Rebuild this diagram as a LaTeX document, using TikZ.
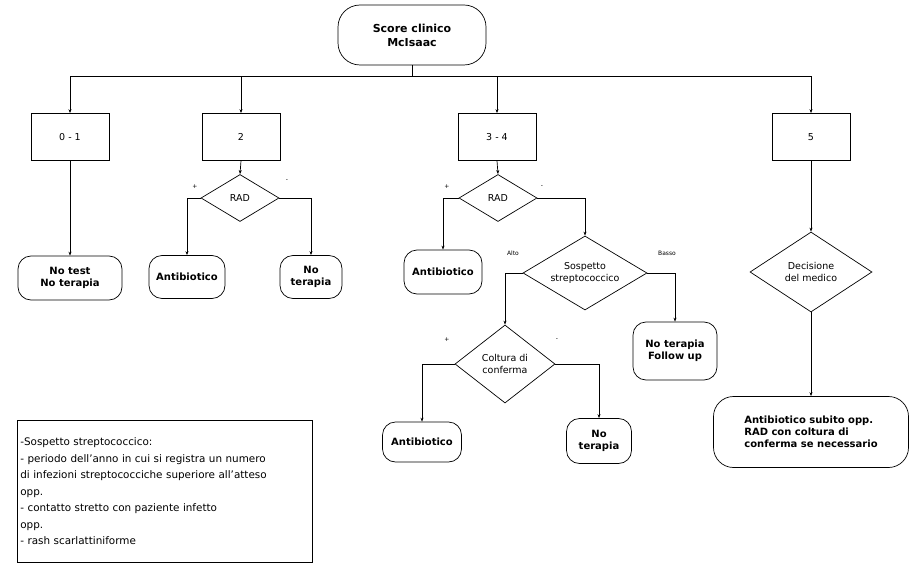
\documentclass[tikz,border=0pt]{standalone}
\usepackage{fontspec}
\setmainfont{DejaVu Sans}
\usetikzlibrary{shapes.geometric,arrows.meta}

\begin{document}
\begin{tikzpicture}[x=1pt,y=-1pt,line width=0.7pt,
    box/.style={draw,minimum width=78pt,minimum height=47pt,font=\fontsize{9.5}{11}\selectfont},
    term/.style={draw,rounded corners=13pt,align=center,inner sep=2pt,font=\bfseries\fontsize{10}{12}\selectfont},
    choice/.style={draw,diamond,aspect=1.7,inner sep=0pt,align=center,font=\fontsize{9.5}{11.5}\selectfont},
    lbl/.style={font=\fontsize{6}{7}\selectfont},
    arr/.style={-{Stealth[length=4pt,width=3pt]}}]
  \useasboundingbox (0,0) rectangle (915,564);
  \node[term,minimum width=148pt,minimum height=60pt,rounded corners=22pt,font=\bfseries\fontsize{11}{14}\selectfont] (score) at (412,35) {Score clinico\\McIsaac};
  \coordinate (bus) at (412,76);
  \node[box] (b01) at (70,137) {0 - 1};
  \node[box] (b2) at (241,137) {2};
  \node[box] (b34) at (497,137) {3 - 4};
  \node[box] (b5) at (811,137) {5};
  \node[choice,minimum width=78pt,minimum height=47pt] (rad2) at (240,198) {RAD};
  \node[choice,minimum width=78pt,minimum height=47pt] (rad34) at (498,198) {RAD};
  \node[choice,minimum width=124pt,minimum height=74pt] (susp) at (585,273) {Sospetto\\streptococcico};
  \node[choice,minimum width=100pt,minimum height=78pt] (colt) at (505,364) {Coltura di\\conferma};
  \node[choice,minimum width=122pt,minimum height=80pt] (dec) at (811,272) {Decisione\\del medico};
  \node[term,minimum width=104pt,minimum height=44pt] (notest) at (70,278) {No test\\No terapia};
  \node[term,minimum width=76pt,minimum height=43pt] (ab2) at (187,277) {Antibiotico};
  \node[term,minimum width=62pt,minimum height=43pt] (nt2) at (311,277) {No\\terapia};
  \node[term,minimum width=78pt,minimum height=44pt] (ab34) at (443,272) {Antibiotico};
  \node[term,minimum width=84pt,minimum height=58pt] (ntfu) at (675,351) {No terapia\\Follow up};
  \node[term,minimum width=79pt,minimum height=40pt] (ab3) at (422,442) {Antibiotico};
  \node[term,minimum width=65pt,minimum height=45pt] (nt3) at (599,441) {No\\terapia};
  \node[term,minimum width=195pt,minimum height=71pt,rounded corners=20pt,align=left] (final) at (811,432)
    {Antibiotico subito opp.\\RAD con coltura di\\conferma se necessario};
  \node[draw,anchor=north west,minimum width=295pt,minimum height=142pt,text width=289pt,
    inner sep=3pt,align=left,font=\fontsize{10.4}{16.5}\selectfont] (note) at (17,420)
    {-Sospetto streptococcico:\\
     - periodo dell'anno in cui si registra un numero\\
     di infezioni streptococciche superiore all'atteso\\
     opp.\\
     - contatto stretto con paziente infetto\\
     opp.\\
     - rash scarlattiniforme};
  \node[lbl] (l1) at (195,187) {+};
  \node[lbl] (l2) at (287,181) {-};
  \node[lbl] (l3) at (447,187) {+};
  \node[lbl] (l4) at (542,187) {-};
  \node[lbl] (l5) at (513,253) {Alto};
  \node[lbl] (l6) at (667,253) {Basso};
  \node[lbl] (l7) at (447,340) {+};
  \node[lbl] (l8) at (557,340) {-};
  \begin{scope}[arr]
    \draw[-] (score.south) -- (bus);
    \draw (bus) -| (b01.north);
    \draw (bus) -| (b2.north);
    \draw (bus) -| (b34.north);
    \draw (bus) -| (b5.north);
    \draw (b01.south) -- (notest.north);
    \draw (b2.south) -- (rad2.north);
    \draw (rad2.west) -| (ab2.north);
    \draw (rad2.east) -| (nt2.north);
    \draw (b34.south) -- (rad34.north);
    \draw (rad34.west) -| (ab34.north);
    \draw (rad34.east) -| (susp.north);
    \draw (susp.west) -| (colt.north);
    \draw (susp.east) -| (ntfu.north);
    \draw (colt.west) -| (ab3.north);
    \draw (colt.east) -| (nt3.north);
    \draw (b5.south) -- (dec.north);
    \draw (dec.south) -- (final.north);
  \end{scope}
\end{tikzpicture}
\end{document}
